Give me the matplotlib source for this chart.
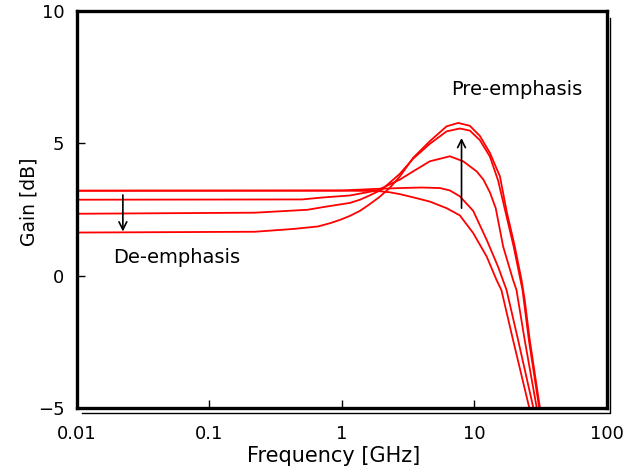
import matplotlib
matplotlib.use("Agg")
import matplotlib.pyplot as plt
from matplotlib.lines import Line2D
from matplotlib.transforms import offset_copy

plt.rcParams['font.family'] = ['DejaVu Sans']
plt.rcParams['axes.unicode_minus'] = True

# ── Data ────────────────────────────────────────────────────────────────────
f_a = [0.01, 1.0, 1.85, 2.74, 4.0, 5.5, 6.53, 7.76, 9.8, 12.4, 15.1, 17.5, 21.4, 27.8, 29.5]
g_a = [3.21, 3.22, 3.28, 3.31, 3.33, 3.31, 3.22, 3.0, 2.45, 1.35, 0.34, -0.54, -2.43, -4.96, -5.6]

f_b = [0.01, 1.0, 1.85, 2.3, 2.74, 3.45, 4.61, 6.17, 7.76, 9.8, 12.4, 14.7, 16.0, 19.6, 25.9, 27.5]
g_b = [3.21, 3.21, 3.20, 3.15, 3.08, 2.96, 2.80, 2.55, 2.28, 1.61, 0.72, -0.16, -0.54, -2.43, -4.96, -5.6]

f_c = [0.01, 0.5, 0.7, 1.15, 1.84, 2.74, 3.45, 4.61, 6.53, 8.24, 10.4, 11.7, 13.1, 14.5, 16.5,
       19.6, 20.8, 24.0, 29.5, 31.0]
g_c = [2.87, 2.88, 2.95, 3.03, 3.22, 3.63, 3.94, 4.32, 4.51, 4.32, 3.94, 3.63, 3.15, 2.55, 1.10,
       -0.16, -0.54, -2.43, -4.96, -5.6]

f_d = [0.01, 0.22, 0.55, 0.72, 1.15, 1.37, 1.6, 2.0, 2.74, 3.45, 4.61, 6.17, 7.76, 9.25, 11.0,
       13.1, 15.1, 17.2, 19.8, 22.3, 23.1, 25.8, 30.8, 32.5]
g_d = [2.34, 2.38, 2.49, 2.59, 2.75, 2.87, 3.02, 3.25, 3.85, 4.42, 4.98, 5.45, 5.56, 5.48, 5.12,
       4.5, 3.6, 2.4, 1.1, -0.16, -0.54, -2.43, -4.96, -5.8]

f_e = [0.01, 0.22, 0.44, 0.66, 0.81, 0.97, 1.15, 1.37, 1.6, 1.93, 2.3, 2.74, 3.45, 4.61, 6.17,
       7.55, 9.25, 11.0, 13.1, 15.6, 17.5, 20.2, 22.7, 24.0, 26.2, 31.2, 33.0]
g_e = [1.63, 1.66, 1.77, 1.86, 1.98, 2.11, 2.26, 2.45, 2.68, 2.98, 3.32, 3.75, 4.45, 5.08, 5.64,
       5.77, 5.66, 5.28, 4.64, 3.75, 2.45, 1.10, -0.16, -0.92, -2.43, -4.96, -5.8]

curves = [(f_a, g_a), (f_b, g_b), (f_c, g_c), (f_d, g_d), (f_e, g_e)]

x_ticks = [0.01, 0.1, 1, 10, 100]
x_tick_labels = ["0.01", "0.1", "1", "10", "100"]
y_ticks = [-5, 0, 5, 10]

RED = "#FF0000"

# ── Figure ──────────────────────────────────────────────────────────────────
fig = plt.figure(figsize=(6.27, 4.74), dpi=100)
ax = fig.add_axes([0.1228, 0.139, 0.845, 0.838])

for f, g in curves:
    ax.plot(f, g, color=RED, lw=1.3, solid_joinstyle="miter")

ax.set_xscale("log")
ax.set_xlim(0.01, 100)
ax.set_ylim(-5, 10)
ax.set_xticks(x_ticks)
ax.set_xticklabels(x_tick_labels)
ax.minorticks_off()
ax.set_yticks(y_ticks)
ax.tick_params(direction="in", length=6, width=1, labelsize=13)
ax.tick_params(axis="x", pad=12)
ax.tick_params(axis="y", pad=9)

for s in ax.spines.values():
    s.set_linewidth(2.4)

# shadow line on right / bottom
tr = offset_copy(ax.transAxes, fig=fig, x=2.6, y=-3.6, units="points")
ax.add_line(Line2D([0.003, 1, 1], [0, 0, 0.995], transform=tr, color="black",
                   lw=1.0, clip_on=False))

ax.set_xlabel("Frequency [GHz]", fontsize=15)
ax.xaxis.set_label_coords(0.485, -0.095)
ax.set_ylabel("Gain [dB]", fontsize=13.5)
ax.yaxis.set_label_coords(-0.072, 0.52)

# arrows + annotations
ax.annotate("", xy=(0.0222, 1.67), xytext=(0.0222, 3.05),
            arrowprops=dict(arrowstyle="->", color="black", lw=1.2,
                            mutation_scale=14, shrinkA=0, shrinkB=0))
ax.annotate("", xy=(8.0, 5.2), xytext=(8.0, 2.55),
            arrowprops=dict(arrowstyle="->", color="black", lw=1.2,
                            mutation_scale=14, shrinkA=0, shrinkB=0))
ax.text(0.0187, 0.67, "De-emphasis", fontsize=14, ha="left", va="center")
ax.text(6.65, 7.03, "Pre-emphasis", fontsize=14, ha="left", va="center")

fig.savefig("out.png", dpi=100, facecolor="white")
